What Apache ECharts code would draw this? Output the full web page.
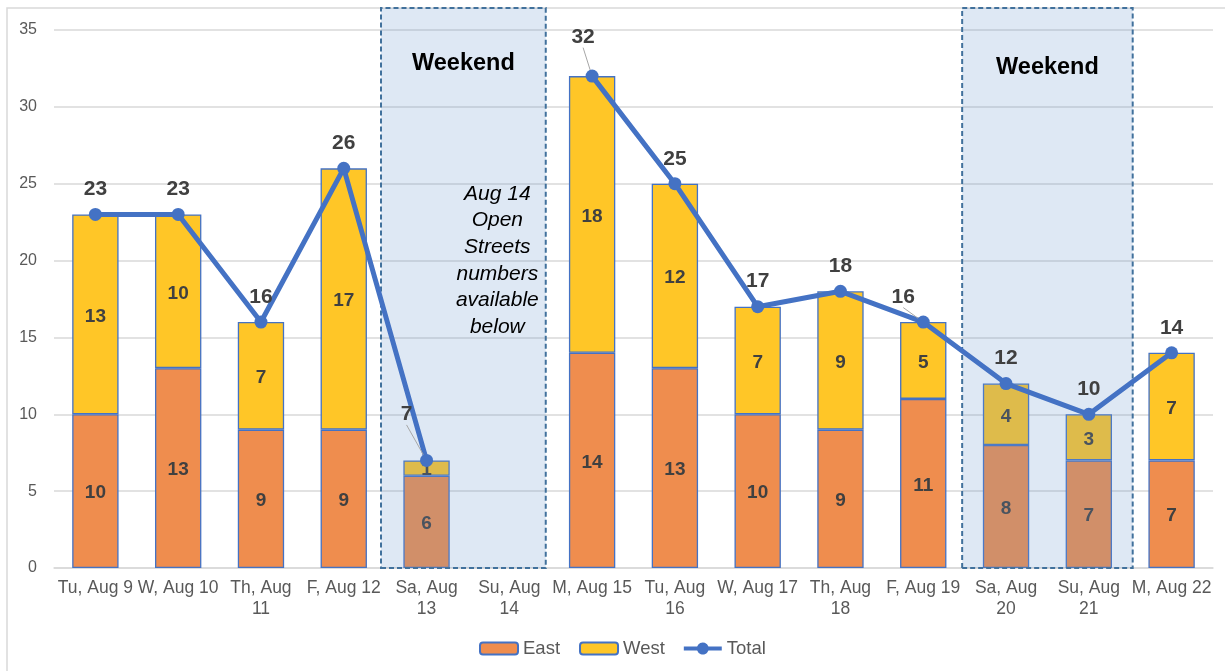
<!DOCTYPE html>
<html>
<head>
<meta charset="utf-8">
<script src="https://cdn.jsdelivr.net/npm/echarts@6/dist/echarts.min.js"></script>
<style>
  html, body { margin: 0; padding: 0; background: #fff; }
  #main { width: 1225px; height: 671px; }
</style>
</head>
<body>
<div id="main"></div>
<script>
var days = ['Tu, Aug 9', 'W, Aug 10', 'Th, Aug\n11', 'F, Aug 12', 'Sa, Aug\n13', 'Su, Aug\n14', 'M, Aug 15',
  'Tu, Aug\n16', 'W, Aug 17', 'Th, Aug\n18', 'F, Aug 19', 'Sa, Aug\n20', 'Su, Aug\n21', 'M, Aug 22'];
var east = [10, 13, 9, 9, 6, null, 14, 13, 10, 9, 11, 8, 7, 7];
var west = [13, 10, 7, 17, 1, null, 18, 12, 7, 9, 5, 4, 3, 7];
var total = [23, 23, 16, 26, 7, null, 32, 25, 17, 18, 16, 12, 10, 14];
// weekend spans, in category units (0 = left edge of first day)
var weekends = [[3.95, 5.94], [10.97, 13.03]];
var noteText = 'Aug 14\nOpen\nStreets\nnumbers\navailable\nbelow';

var chartDom = document.getElementById('main');
var myChart = echarts.init(chartDom);
var font = "'Liberation Sans', Arial, sans-serif";

// extra label nudges for totals that Excel moved off their points
var moved = { 4: [-20, -21], 6: [-9, -14], 10: [-20, 0] };

// line + dot legend icon, like Excel's
var lineDot = 'path://M0,4H13.34A6,6,0,0,1,24.66,4H38V8H24.66A6,6,0,0,1,13.34,8H0Z';

var barLabel = {
  show: true,
  position: 'inside',
  offset: [0, 2],
  color: '#404040',
  fontWeight: 'bold',
  fontSize: 19,
  fontFamily: font,
};

var option = {
  animation: false,
  textStyle: { fontFamily: font },
  graphic: [
    {
      type: 'rect',
      z: -10,
      shape: { x: 7, y: 8, width: 1240, height: 700 },
      style: { fill: 'none', stroke: '#D9D9D9', lineWidth: 1.5 },
    },
  ],
  grid: [
    { left: 54, right: 12, top: 30, bottom: 103 },
    { left: 54, right: 12, top: 8, bottom: 103 },
  ],
  legend: {
    top: 634,
    left: 474,
    itemWidth: 38,
    itemHeight: 12,
    itemGap: 19,
    data: [
      'East',
      'West',
      { name: 'Total', icon: lineDot },
    ],
    textStyle: { color: '#595959', fontSize: 18.5, fontFamily: font },
  },
  xAxis: [
    {
      type: 'category',
      data: days,
      axisLine: { lineStyle: { color: '#D9D9D9', width: 1.5 } },
      axisTick: { show: false },
      axisLabel: {
        color: '#595959',
        fontSize: 17.5,
        lineHeight: 21,
        margin: 10,
        interval: 0,
        fontFamily: font,
      },
    },
    { type: 'value', gridIndex: 1, min: 0, max: 14, show: false },
  ],
  yAxis: [
    {
      type: 'value',
      min: 0,
      max: 35,
      interval: 5,
      axisLine: { show: false },
      axisTick: { show: false },
      splitLine: { lineStyle: { color: '#D9D9D9', width: 1.5 } },
      axisLabel: { color: '#595959', fontSize: 16, margin: 17, fontFamily: font },
    },
    { type: 'value', gridIndex: 1, min: 0, max: 1, show: false },
  ],
  series: [
    {
      name: 'East',
      type: 'bar',
      stack: 'all',
      barWidth: '56%',
      z: 2,
      data: east,
      itemStyle: { color: '#EF8D4E', borderColor: '#4472C4', borderWidth: 1.3 },
      label: barLabel,
      markPoint: {
        symbol: 'circle',
        symbolSize: 0,
        data: [{ coord: [5, 20] }],
        label: {
          show: true,
          position: 'inside',
          offset: [-12, 0],
          formatter: noteText,
          color: '#000',
          fontStyle: 'italic',
          fontSize: 21,
          lineHeight: 26.7,
          align: 'center',
          fontFamily: font,
        },
      },
    },
    {
      name: 'West',
      type: 'bar',
      stack: 'all',
      barWidth: '56%',
      z: 2,
      data: west,
      itemStyle: { color: '#FFC627', borderColor: '#4472C4', borderWidth: 1.3 },
      label: barLabel,
    },
    {
      name: 'Weekend',
      type: 'scatter',
      xAxisIndex: 1,
      yAxisIndex: 1,
      symbolSize: 0,
      data: [],
      markArea: {
        z: 3,
        silent: true,
        itemStyle: {
          color: 'rgba(105, 150, 205, 0.22)',
          borderColor: '#41719C',
          borderWidth: 2,
          borderType: [5, 3],
        },
        label: {
          show: true,
          position: 'insideTop',
          color: '#000',
          fontWeight: 'bold',
          fontSize: 23.5,
          fontFamily: font,
        },
        data: weekends.map((w, i) => [
          { name: 'Weekend', xAxis: w[0], yAxis: 0, label: { distance: i == 0 ? 44.5 : 48.5 } },
          { xAxis: w[1], yAxis: 1 },
        ]),
      },
    },
    {
      name: 'Total',
      type: 'line',
      z: 5,
      data: total.map((v, i) => ({ value: v, labelLine: { show: !!moved[i] } })),
      symbol: 'circle',
      symbolSize: 13,
      lineStyle: { color: '#4472C4', width: 5 },
      itemStyle: { color: '#4472C4' },
      label: {
        show: true,
        position: 'top',
        distance: 8,
        color: '#404040',
        fontWeight: 'bold',
        fontSize: 21,
        fontFamily: font,
      },
      labelLine: { show: true, lineStyle: { color: '#A6A6A6', width: 1 } },
      labelLayout: function (params) {
        var d = moved[params.dataIndex];
        return d ? { dx: d[0], dy: d[1] } : {};
      },
    },
  ],
};

option && myChart.setOption(option);

window.onresize = function () {
  myChart.resize();
};
</script>
</body>
</html>
